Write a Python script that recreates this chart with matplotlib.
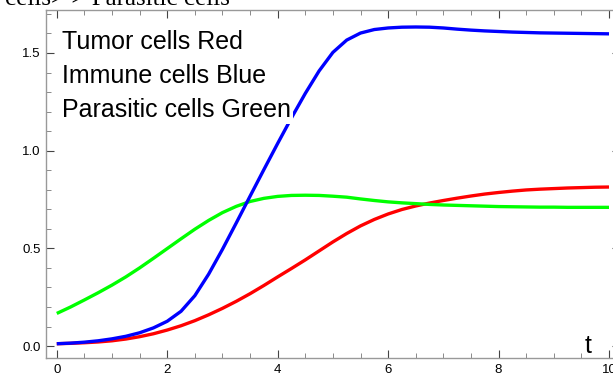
import numpy as np
import matplotlib.pyplot as plt
from matplotlib.ticker import MultipleLocator

# time grid and the three populations
t = np.arange(0, 10.01, 0.25)

tumor = [0.012, 0.014, 0.017, 0.021, 0.027, 0.036, 0.048, 0.063, 0.082, 0.104,
         0.130, 0.160, 0.193, 0.229, 0.268, 0.310, 0.354, 0.397, 0.441, 0.487,
         0.533, 0.576, 0.615, 0.648, 0.676, 0.699, 0.717, 0.732, 0.745, 0.757,
         0.768, 0.778, 0.786, 0.793, 0.799, 0.803, 0.806, 0.809, 0.811, 0.813,
         0.814]

immune = [0.012, 0.015, 0.020, 0.027, 0.037, 0.050, 0.068, 0.093, 0.127, 0.178,
          0.258, 0.368, 0.495, 0.630, 0.767, 0.903, 1.037, 1.168, 1.293, 1.408,
          1.503, 1.566, 1.602, 1.620, 1.628, 1.632, 1.633, 1.632, 1.628, 1.622,
          1.617, 1.613, 1.610, 1.607, 1.605, 1.603, 1.602, 1.601, 1.600, 1.599,
          1.598]

parasitic = [0.167, 0.200, 0.236, 0.273, 0.312, 0.354, 0.400, 0.449, 0.499, 0.549,
             0.598, 0.643, 0.683, 0.715, 0.740, 0.756, 0.766, 0.771, 0.772, 0.771,
             0.767, 0.762, 0.753, 0.745, 0.738, 0.733, 0.729, 0.725, 0.722, 0.720,
             0.718, 0.716, 0.714, 0.713, 0.712, 0.711, 0.711, 0.710, 0.710, 0.710,
             0.710]

labels = ["Tumor cells Red", "Immune cells Blue", "Parasitic cells Green"]
title = "cells> > Parasitic cells"

fig = plt.figure(figsize=(6.13, 3.83), dpi=100)
ax = fig.add_axes([0.0755, 0.0653, 0.936, 0.9086])

ax.plot(t, tumor, color='#ff0000', lw=2.4, solid_capstyle='butt')
ax.plot(t, parasitic, color='#00ff00', lw=2.4, solid_capstyle='butt')
ax.plot(t, immune, color='#0000ff', lw=2.4, solid_capstyle='butt')

ax.set_xlim(-0.19, 10.2)
ax.set_ylim(-0.061, 1.72)

ax.xaxis.set_major_locator(MultipleLocator(2))
ax.xaxis.set_minor_locator(MultipleLocator(0.5))
ax.yaxis.set_major_locator(MultipleLocator(0.5))
ax.yaxis.set_minor_locator(MultipleLocator(0.1))
ax.xaxis.set_major_formatter(plt.FuncFormatter(lambda v, p: "%d" % v))
ax.yaxis.set_major_formatter(plt.FuncFormatter(lambda v, p: "%.1f" % v))

for s in ax.spines.values():
    s.set_color('#999999')
    s.set_linewidth(1.0)
ax.tick_params(which='both', direction='in', top=True, right=True,
               color='#444444', labelsize=9.5, pad=4)
ax.tick_params(which='major', length=6, width=0.8)
ax.tick_params(which='minor', length=3.5, width=0.6, color='#777777')
for lbl in ax.get_xticklabels() + ax.get_yticklabels():
    lbl.set_family('Liberation Sans')

# labels in the upper left, pixel positions, white boxes over the curves
for i, lab in enumerate(labels):
    ax.text(62, 383 - (49 + 34 * i), lab, transform=None, fontsize=18,
            family='Liberation Sans', va='baseline', ha='left', zorder=5,
            bbox=dict(facecolor='white', edgecolor='none', pad=1))

ax.text(588, 383 - 353, "t", transform=None, fontsize=18,
        family='Liberation Sans', va='baseline', ha='center')

fig.text(230 / 613, 1 - 5 / 383, title, fontsize=18, family='Liberation Serif',
         va='baseline', ha='right')

fig.savefig("out.png", dpi=100)
